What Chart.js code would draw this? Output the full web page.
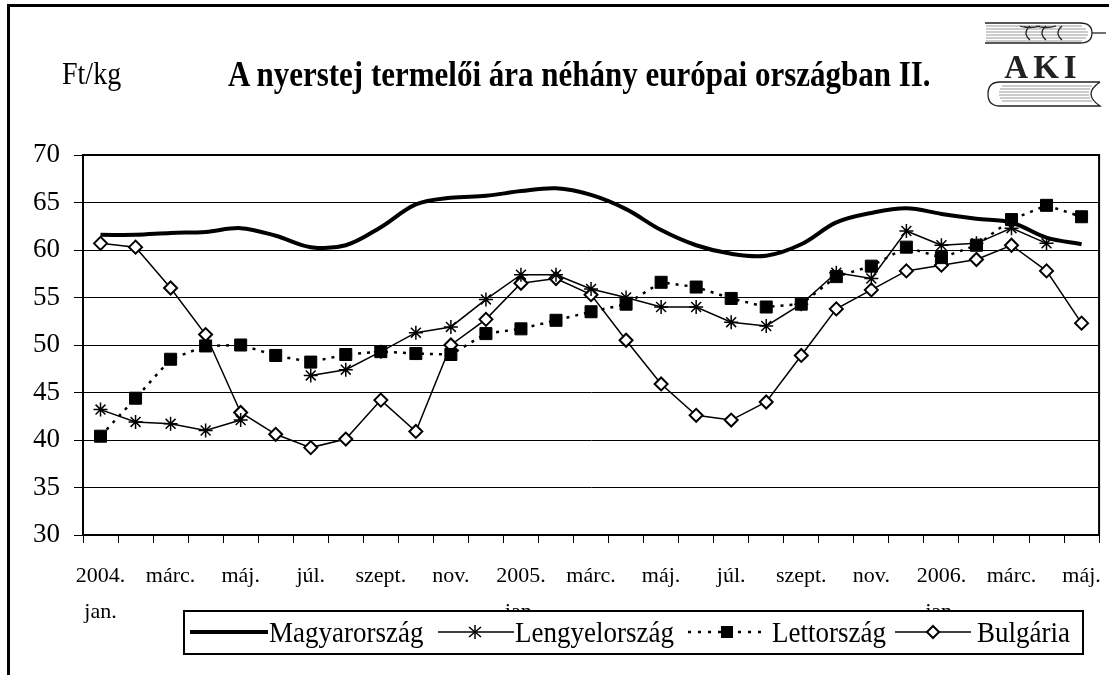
<!DOCTYPE html>
<html>
<head>
<meta charset="utf-8">
<script src="https://cdn.jsdelivr.net/npm/chart.js@4/dist/chart.umd.min.js"></script>
<style>
  body { margin: 0; background: #fff; }
  #wrap { position: relative; width: 1109px; height: 675px; overflow: hidden; font-family: "Liberation Serif", "Times New Roman", serif; }
  #frame { position: absolute; left: 7px; top: 4px; width: 1120px; height: 700px; border-left: 3px solid #000; border-top: 3px solid #000; }
  canvas { position: absolute; left: 0; top: 0; }
  .txt { position: absolute; white-space: nowrap; color: #000; transform: scaleY(1.15); }
  #legend { position: absolute; left: 183px; top: 610px; width: 897px; height: 41px; border: 2px solid #000; background: #fff; }
  #legend .it { position: absolute; top: 0; height: 41px; line-height: 41px; font-size: 27px; transform: scaleY(1.12); }
  #legend svg { position: absolute; top: 0; }
</style>
</head>
<body>
<div id="wrap">
  <canvas id="graf" width="1117" height="675"></canvas>
  <div id="frame"></div>
  <div class="txt" style="left:62px; top:58px; font-size:28px;">Ft/kg</div>
  <div class="txt" style="left:228px; top:56px; font-size:31px; font-weight:bold;">A nyerstej termelői ára néhány európai országban II.</div>
  <svg style="position:absolute; left:980px; top:15px;" width="129" height="100" viewBox="980 15 129 100">
    <g stroke="#999" stroke-width="1">
      <line x1="986" y1="26" x2="1082" y2="26"/><line x1="986" y1="29" x2="1086" y2="29"/>
      <line x1="986" y1="32" x2="1088" y2="32"/><line x1="986" y1="35" x2="1088" y2="35"/>
      <line x1="986" y1="38" x2="1086" y2="38"/><line x1="986" y1="41" x2="1082" y2="41"/>
      <line x1="1002" y1="86" x2="1092" y2="86"/><line x1="1000" y1="89" x2="1090" y2="89"/>
      <line x1="999" y1="92" x2="1089" y2="92"/><line x1="999" y1="95" x2="1089" y2="95"/>
      <line x1="1000" y1="98" x2="1090" y2="98"/><line x1="1002" y1="101" x2="1092" y2="101"/>
    </g>
    <g fill="none" stroke="#222" stroke-width="1.3">
      <path d="M985 23 H1080 Q1092 23 1092 33 Q1092 43 1080 43 H985"/>
      <line x1="1092" y1="33" x2="1106" y2="33"/>
      <path d="M1030 26 Q1022 33 1030 40 M1046 26 Q1038 33 1046 40 M1062 26 Q1054 33 1062 40 M1020 26 Q1030 29 1040 26 M1036 26 Q1046 29 1056 26"/>
      <path d="M1100 82 H1000 Q988 82 988 94 Q988 106 1000 106 H1100 Q1091 100 1091 94 Q1091 88 1100 82"/>
    </g>
    <text x="1043" y="78" text-anchor="middle" font-family="Liberation Serif" font-weight="bold" font-size="33" letter-spacing="5" fill="#222">AKI</text>
  </svg>
  <div id="legend">
    <svg style="left:5px" width="80" height="41"><line x1="0" y1="20" x2="78" y2="20" stroke="#000" stroke-width="4"/></svg>
    <div class="it" style="left:84px">Magyarország</div>
    <svg style="left:253px" width="78" height="41"><line x1="0" y1="20" x2="76" y2="20" stroke="#000" stroke-width="1.5"/><g stroke="#000" stroke-width="1.5"><line x1="37" y1="13" x2="37" y2="27"/><line x1="31" y1="15" x2="43" y2="25"/><line x1="43" y1="15" x2="31" y2="25"/></g></svg>
    <div class="it" style="left:330px">Lengyelország</div>
    <svg style="left:503px" width="80" height="41"><line x1="0" y1="20" x2="80" y2="20" stroke="#000" stroke-width="2.5" stroke-dasharray="3,7"/><rect x="33" y="14" width="12" height="12" fill="#000"/></svg>
    <div class="it" style="left:587px">Lettország</div>
    <svg style="left:710px" width="78" height="41"><line x1="0" y1="20" x2="76" y2="20" stroke="#000" stroke-width="1.5"/><path d="M38 14 L44 20 L38 26 L32 20 Z" fill="#fff" stroke="#000" stroke-width="2"/></svg>
    <div class="it" style="left:792px">Bulgária</div>
  </div>
</div>
<script>
const honapok = [['2004.', 'jan.'], 'febr.', 'márc.', 'ápr.', 'máj.', 'jún.', 'júl.', 'aug.', 'szept.', 'okt.', 'nov.', 'dec.',
  ['2005.', 'jan.'], 'febr.', 'márc.', 'ápr.', 'máj.', 'jún.', 'júl.', 'aug.', 'szept.', 'okt.', 'nov.', 'dec.',
  ['2006.', 'jan.'], 'febr.', 'márc.', 'ápr.', 'máj.'];

const magyarorszag = [61.6, 61.6, 61.8, 61.9, 62.3, 61.5, 60.3, 60.5, 62.4, 64.8, 65.5, 65.7, 66.2, 66.5, 65.8,
  64.3, 62.1, 60.5, 59.6, 59.4, 60.6, 62.9, 63.9, 64.4, 63.8, 63.3, 62.9, 61.3, 60.6];
const lengyelorszag = [43.2, 41.9, 41.7, 41.0, 42.1, null, 46.8, 47.4, 49.3, 51.3, 51.9, 54.8, 57.4, 57.4, 55.9,
  55.0, 54.0, 54.0, 52.4, 52.0, 54.3, 57.6, 57.0, 62.0, 60.5, 60.7, 62.3, 60.7, null];
const lettorszag = [40.4, 44.4, 48.5, 49.9, 50.0, 48.9, 48.2, 49.0, 49.3, 49.1, 49.0, 51.2, 51.7, 52.6, 53.5,
  54.3, 56.6, 56.1, 54.9, 54.0, 54.3, 57.2, 58.3, 60.3, 59.2, 60.5, 63.2, 64.7, 63.5];
const bulgaria = [60.7, 60.3, 56.0, 51.1, 42.9, 40.6, 39.2, 40.1, 44.2, 40.9, 50.0, 52.7, 56.5, 57.0, 55.3,
  50.5, 45.9, 42.6, 42.1, 44.0, 48.9, 53.8, 55.8, 57.8, 58.4, 59.0, 60.5, 57.8, 52.3];

const keret = {
  id: 'keret',
  afterDraw(chart) {
    const { ctx, chartArea: a } = chart;
    ctx.save();
    ctx.strokeStyle = '#000';
    ctx.lineWidth = 2;
    ctx.strokeRect(a.left, a.top, a.right - a.left, a.bottom - a.top);
    ctx.restore();
  }
};

new Chart(document.getElementById('graf').getContext('2d'), {
  type: 'line',
  data: {
    labels: honapok,
    datasets: [
      { label: 'Magyarország', data: magyarorszag, borderColor: '#000', borderWidth: 4, pointRadius: 0, tension: 0.35 },
      { label: 'Lengyelország', data: lengyelorszag, borderColor: '#000', borderWidth: 1.5, pointStyle: 'star',
        pointRadius: 7, pointBorderWidth: 1.5, pointBorderColor: '#000', tension: 0 },
      { label: 'Lettország', data: lettorszag, borderColor: '#000', borderWidth: 2.5, borderDash: [3, 6], pointStyle: 'rect',
        pointRadius: 8.5, pointBackgroundColor: '#000', pointBorderColor: '#000', pointBorderWidth: 1, tension: 0 },
      { label: 'Bulgária', data: bulgaria, borderColor: '#000', borderWidth: 1.5, pointStyle: 'rectRot',
        pointRadius: 6.5, pointBackgroundColor: '#fff', pointBorderColor: '#000', pointBorderWidth: 2, tension: 0 }
    ]
  },
  options: {
    responsive: false,
    animation: false,
    devicePixelRatio: 1,
    layout: { padding: { top: 155, right: 11, left: 0, bottom: 0 } },
    plugins: { legend: { display: false }, tooltip: { enabled: false } },
    scales: {
      x: {
        offset: true,
        afterFit(scale) { scale.height = 140; },
        grid: { offset: true, drawOnChartArea: false, color: '#000', tickLength: 8, tickWidth: 1 },
        border: { color: '#000', width: 2 },
        ticks: {
          autoSkip: false, maxRotation: 0, minRotation: 0, padding: 16, color: '#000',
          font: { family: 'Liberation Serif', size: 22, lineHeight: 1.6 },
          callback(value, index) { return index % 2 === 0 ? this.getLabelForValue(value) : ''; }
        }
      },
      y: {
        min: 30, max: 70,
        afterFit(scale) { scale.width = 83; },
        grid: { color: '#000', lineWidth: 1, tickLength: 9 },
        border: { color: '#000', width: 2 },
        ticks: { stepSize: 5, padding: 14, color: '#000', font: { family: 'Liberation Serif', size: 27 } }
      }
    }
  },
  plugins: [keret]
});
</script>
</body>
</html>
